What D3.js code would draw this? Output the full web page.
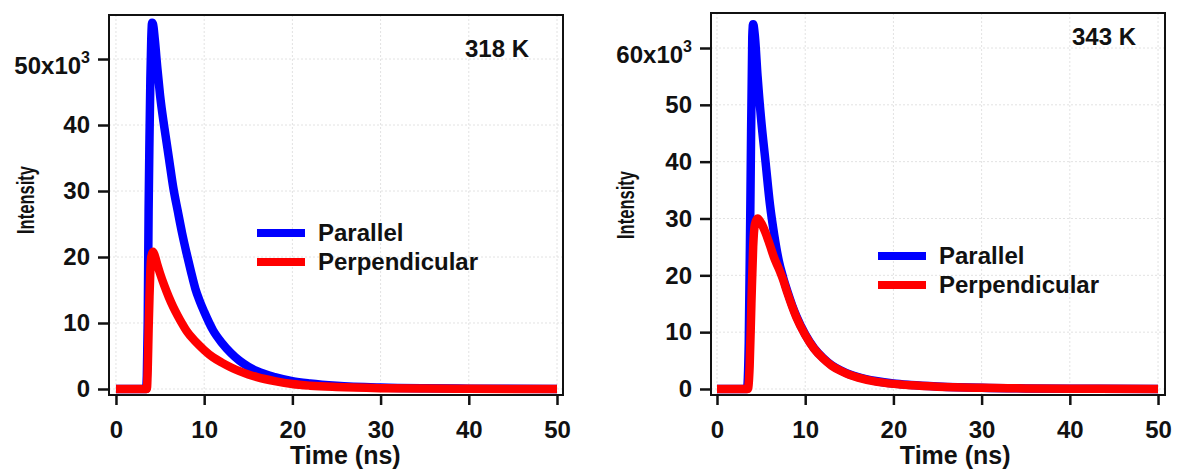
<!DOCTYPE html>
<html>
<head>
<meta charset="utf-8"/>
<title>Fluorescence decay, parallel vs perpendicular</title>
<script src="https://d3js.org/d3.v7.min.js"></script>
<style>
  body { margin: 0; background: #fff; }
  svg text { font-family: "Liberation Sans", Arial, sans-serif; font-weight: bold; fill: #111; }
</style>
</head>
<body>
<svg id="chart" width="1177" height="472"></svg>
<script>
// ---- data (intensity in units of 10^3 counts, time in ns) ----
var seriesNames = ["Parallel", "Perpendicular"];
var seriesColors = ["#0000ff", "#ff0000"];

// 318 K
var t318Par = [0, 3.4, 3.5, 3.6, 3.7, 3.8, 3.9, 4.0, 4.1, 4.2, 4.4, 4.7, 5, 5.5, 6, 6.5, 7, 7.5, 8, 8.5, 9, 9.5, 10, 11, 12, 13, 14, 15, 16, 18, 20, 22, 25, 30, 35, 40, 50];
var i318Par = [0, 0, 2, 10, 27, 38, 47, 53, 55.5, 55.3, 53, 48.5, 44.5, 39.5, 35, 30.5, 27, 23.6, 20.6, 17.8, 15.2, 13.3, 11.7, 8.9, 7.0, 5.5, 4.3, 3.4, 2.7, 1.8, 1.2, 0.85, 0.5, 0.22, 0.1, 0.05, 0];
var t318Per = [0, 3.5, 3.6, 3.7, 3.8, 3.9, 4.0, 4.2, 4.4, 4.7, 5, 5.5, 6, 6.5, 7, 7.5, 8, 9, 10, 11, 12, 13, 14, 15, 16, 18, 20, 22, 25, 30, 35, 40, 50];
var i318Per = [0, 0, 3, 9, 14, 18, 20, 20.8, 20.2, 18.8, 17.5, 15.6, 13.9, 12.4, 11.1, 9.9, 8.8, 7.2, 5.9, 4.8, 4.0, 3.3, 2.7, 2.2, 1.8, 1.2, 0.75, 0.5, 0.3, 0.13, 0.06, 0.03, 0];

// 343 K
var t343Par = [0, 3.4, 3.6, 3.8, 4.0, 4.1, 4.3, 4.6, 5, 5.5, 6, 6.5, 7, 7.5, 8, 8.5, 9, 10, 11, 12, 13, 14, 15, 16, 18, 20, 22, 25, 30, 35, 40, 50];
var i343Par = [0, 0, 8, 35, 62, 64.2, 62, 55, 47.5, 40, 32.5, 27, 22.6, 19.6, 17.1, 14.8, 12.8, 9.6, 7.2, 5.5, 4.2, 3.3, 2.6, 2.1, 1.4, 0.95, 0.7, 0.45, 0.2, 0.1, 0.05, 0];
var t343Per = [0, 3.5, 3.7, 3.9, 4.1, 4.3, 4.6, 5, 5.5, 6, 6.5, 7, 7.5, 8, 8.5, 9, 10, 11, 12, 13, 14, 15, 16, 18, 20, 22, 25, 30, 35, 40, 50];
var i343Per = [0, 0, 4, 15, 25, 29, 30, 29.2, 27.5, 25.3, 23, 21.2, 19.2, 16.8, 14.6, 12.6, 9.5, 7.1, 5.4, 4.1, 3.2, 2.5, 2.0, 1.3, 0.9, 0.65, 0.4, 0.2, 0.1, 0.05, 0];

var xTicks = [0, 10, 20, 30, 40, 50];
var yTicks318 = [0, 10, 20, 30, 40, 50];
var yTicks343 = [0, 10, 20, 30, 40, 50, 60];

var svg = d3.select("#chart");

function panel(opt) {
  var x = d3.scaleLinear().domain(opt.xDomain).range([opt.left, opt.right]);
  var y = d3.scaleLinear().domain(opt.yDomain).range([opt.bottom, opt.top]);
  var g = svg.append("g");

  // dotted grid
  g.selectAll("line.gx").data(xTicks).enter().append("line")
    .attr("x1", d => x(d)).attr("x2", d => x(d))
    .attr("y1", opt.top).attr("y2", opt.bottom)
    .attr("stroke", "#e2e2e2").attr("stroke-dasharray", "2,2");
  g.selectAll("line.gy").data(opt.yTicks).enter().append("line")
    .attr("x1", opt.left).attr("x2", opt.right)
    .attr("y1", d => y(d)).attr("y2", d => y(d))
    .attr("stroke", "#e2e2e2").attr("stroke-dasharray", "2,2");

  // curves
  var line = d3.line().x(d => x(d[0])).y(d => y(d[1])).curve(d3.curveMonotoneX);
  opt.series.forEach(function (s, k) {
    g.append("path")
      .datum(d3.zip(s[0], s[1]))
      .attr("d", line)
      .attr("fill", "none")
      .attr("stroke", seriesColors[k])
      .attr("stroke-width", 8.5)
      .attr("stroke-linejoin", "round");
  });

  // frame
  g.append("rect")
    .attr("x", opt.left).attr("y", opt.top)
    .attr("width", opt.right - opt.left).attr("height", opt.bottom - opt.top)
    .attr("fill", "none").attr("stroke", "#111").attr("stroke-width", 2);

  // axes
  var ya = g.append("g").attr("transform", "translate(" + opt.left + ",0)")
    .call(d3.axisLeft(y).tickValues(opt.yTicks).tickSize(11).tickSizeOuter(0).tickPadding(8));
  var xa = g.append("g").attr("transform", "translate(0," + opt.bottom + ")")
    .call(d3.axisBottom(x).tickValues(xTicks).tickSize(10).tickSizeOuter(0).tickPadding(16));
  [ya, xa].forEach(function (a) {
    a.select(".domain").remove();
    a.selectAll(".tick line").attr("stroke", "#111").attr("stroke-width", 2.5);
    a.selectAll(".tick text").attr("font-size", 24).attr("font-family", null).attr("fill", "#111");
  });
  var top = opt.yTicks[opt.yTicks.length - 1];
  var tt = ya.selectAll(".tick text").filter(d => d === top);
  tt.text(top + "x10").attr("dy", "0.6em");
  tt.append("tspan").attr("dy", "-0.7em").attr("font-size", 16).text("3");

  // axis titles
  g.append("text")
    .attr("x", x(opt.xTitleAt)).attr("y", 464)
    .attr("text-anchor", "middle").attr("font-size", 25)
    .text("Time (ns)");
  g.append("text")
    .attr("transform", "translate(" + opt.yTitleX + "," + opt.yTitleY + ") rotate(-90) scale(0.69,1)")
    .attr("text-anchor", "middle").attr("font-size", 24)
    .text("Intensity");

  // temperature
  g.append("text")
    .attr("x", opt.tempX).attr("y", opt.tempY)
    .attr("font-size", 24)
    .text(opt.temp);

  // legend
  seriesNames.forEach(function (n, k) {
    var ly = opt.legY + k * 29;
    g.append("line")
      .attr("x1", opt.legX).attr("x2", opt.legX + 48)
      .attr("y1", ly).attr("y2", ly)
      .attr("stroke", seriesColors[k]).attr("stroke-width", 8);
    g.append("text")
      .attr("x", opt.legX + 61).attr("y", ly + 8)
      .attr("font-size", 24)
      .text(n);
  });
}

panel({
  left: 109, right: 563, top: 15, bottom: 395,
  xDomain: [-0.79, 50.68], yDomain: [-0.91, 56.67],
  yTicks: yTicks318,
  series: [[t318Par, i318Par], [t318Per, i318Per]],
  xTitleAt: 26, yTitleX: 34, yTitleY: 200,
  temp: "318 K", tempX: 465, tempY: 57,
  legX: 257, legY: 233
});

panel({
  left: 711, right: 1165, top: 13, bottom: 395,
  xDomain: [-0.68, 50.79], yDomain: [-1.06, 66.16],
  yTicks: yTicks343,
  series: [[t343Par, i343Par], [t343Per, i343Per]],
  xTitleAt: 27, yTitleX: 634, yTitleY: 205,
  temp: "343 K", tempX: 1072, tempY: 45,
  legX: 878, legY: 256
});
</script>
</body>
</html>
